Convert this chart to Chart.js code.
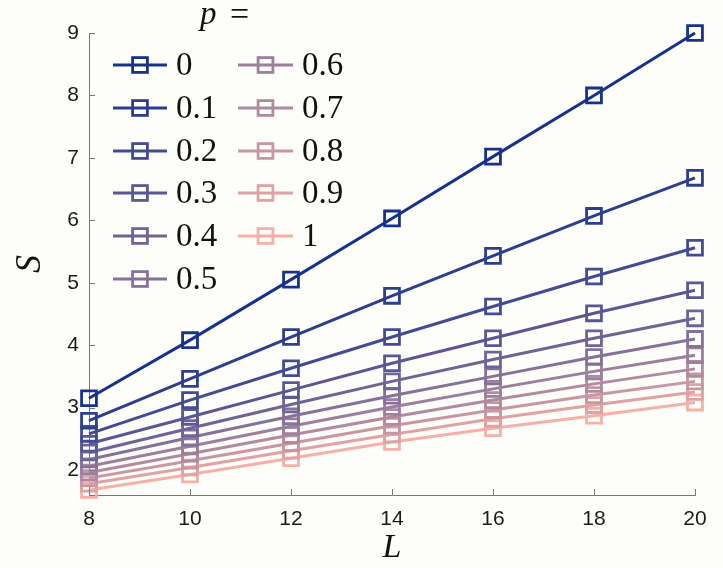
<!DOCTYPE html>
<html>
<head>
<meta charset="utf-8">
<script src="https://cdn.jsdelivr.net/npm/chart.js@4.4.1/dist/chart.umd.min.js"></script>
<style>
  html, body { margin: 0; padding: 0; background: #fdfdfa; }
  canvas { display: block; }
</style>
</head>
<body>
<canvas id="myChart" width="723" height="568"></canvas>
<script>
  // L values on the x axis
  const L = [8, 10, 12, 14, 16, 18, 20];
  const pLabels = ['0', '0.1', '0.2', '0.3', '0.4', '0.5', '0.6', '0.7', '0.8', '0.9', '1'];

  // S for each p
  const s_p00 = [3.15, 4.08, 5.05, 6.03, 7.02, 8.00, 9.00];
  const s_p01 = [2.79, 3.46, 4.13, 4.79, 5.43, 6.07, 6.68];
  const s_p02 = [2.58, 3.12, 3.63, 4.13, 4.62, 5.10, 5.56];
  const s_p03 = [2.42, 2.85, 3.28, 3.71, 4.11, 4.51, 4.88];
  const s_p04 = [2.28, 2.67, 3.05, 3.42, 3.77, 4.11, 4.43];
  const s_p05 = [2.17, 2.52, 2.86, 3.19, 3.50, 3.81, 4.10];
  const s_p06 = [2.06, 2.38, 2.70, 3.01, 3.30, 3.58, 3.84];
  const s_p07 = [1.96, 2.26, 2.56, 2.85, 3.12, 3.38, 3.62];
  const s_p08 = [1.87, 2.15, 2.43, 2.71, 2.96, 3.20, 3.42];
  const s_p09 = [1.78, 2.04, 2.31, 2.57, 2.82, 3.04, 3.25];
  const s_p10 = [1.68, 1.93, 2.19, 2.45, 2.67, 2.87, 3.08];
  const allS = [s_p00, s_p01, s_p02, s_p03, s_p04, s_p05, s_p06, s_p07, s_p08, s_p09, s_p10];

  const xTicks = [8, 10, 12, 14, 16, 18, 20];
  const yTicks = [2, 3, 4, 5, 6, 7, 8, 9];

  // colour ramp dark blue -> salmon
  const c0 = [22, 50, 140], c1 = [245, 176, 168];
  function rampColor(i, n) {
    const t = i / (n - 1);
    const c = c0.map((v, k) => Math.round(v + (c1[k] - v) * t));
    return 'rgb(' + c.join(',') + ')';
  }

  const datasets = allS.map((s, i) => ({
    label: pLabels[i],
    data: L.map((x, j) => ({ x: x, y: s[j] })),
    borderColor: rampColor(i, allS.length),
    backgroundColor: 'rgba(0,0,0,0)',
    borderWidth: 3,
    pointStyle: 'rect',
    pointRadius: 10.5,
    pointBorderWidth: 2.8,
    pointBackgroundColor: 'rgba(0,0,0,0)',
    pointBorderColor: rampColor(i, allS.length),
    tension: 0,
    clip: false
  }));

  // inward tick marks, legend and labels drawn on the canvas
  const extras = {
    id: 'extras',
    beforeDraw(chart) {
      const c = chart.ctx;
      c.save();
      c.fillStyle = '#fdfdfa';
      c.fillRect(0, 0, chart.width, chart.height);
      c.restore();
    },
    afterDatasetsDraw(chart) {
      const c = chart.ctx;
      const xs = chart.scales.x, ys = chart.scales.y;
      const area = chart.chartArea;
      c.save();
      c.strokeStyle = '#777';
      c.lineWidth = 1;
      xTicks.forEach(v => {
        const px = Math.round(xs.getPixelForValue(v)) + 0.5;
        c.beginPath(); c.moveTo(px, area.bottom); c.lineTo(px, area.bottom - 6); c.stroke();
      });
      yTicks.forEach(v => {
        const py = Math.round(ys.getPixelForValue(v)) + 0.5;
        c.beginPath(); c.moveTo(area.left, py); c.lineTo(area.left + 6, py); c.stroke();
      });

      // legend title
      c.fillStyle = '#111';
      c.textBaseline = 'middle';
      c.font = 'italic 33px "Liberation Serif"';
      c.fillText('p', 200, 15);
      c.font = '34px "Liberation Serif"';
      c.fillText('=', 230, 16);

      // legend entries, two columns
      const cols = [{ x0: 113, x1: 167, tx: 176 }, { x0: 238, x1: 293, tx: 302 }];
      const rowY = [65, 108, 151, 193, 236, 279];
      chart.data.datasets.forEach((ds, i) => {
        const col = cols[i < 6 ? 0 : 1];
        const y = rowY[i < 6 ? i : i - 6];
        c.strokeStyle = ds.borderColor;
        c.lineWidth = 3;
        c.beginPath(); c.moveTo(col.x0, y); c.lineTo(col.x1, y); c.stroke();
        const h = 7.4;
        const mx = (col.x0 + col.x1) / 2;
        c.lineWidth = 2.8;
        c.strokeRect(mx - h, y - h, 2 * h, 2 * h);
        c.fillStyle = '#111';
        c.font = '33px "Liberation Serif"';
        c.fillText(ds.label, col.tx, y + 1);
      });
      c.restore();
    }
  };

  const ctx = document.getElementById('myChart');

  new Chart(ctx, {
    type: 'line',
    data: { datasets: datasets },
    options: {
      responsive: false,
      animation: false,
      layout: { padding: { top: 33, right: 28, left: 0, bottom: 0 } },
      plugins: { legend: { display: false }, tooltip: { enabled: false } },
      scales: {
        x: {
          type: 'linear',
          min: 8,
          max: 20,
          afterFit: s => { s.height = 73; },
          afterBuildTicks: s => { s.ticks = xTicks.map(v => ({ value: v })); },
          grid: { display: true, drawOnChartArea: false, drawTicks: false },
          border: { display: true, color: '#777', width: 1 },
          ticks: { color: '#1a1a1a', font: { family: 'Liberation Sans', size: 21 }, padding: 12, maxRotation: 0 },
          title: { display: true, text: 'L', color: '#111', font: { family: 'Liberation Serif', style: 'italic', size: 34 }, padding: { top: 0, bottom: 0 } }
        },
        y: {
          min: 1.6,
          max: 9,
          afterFit: s => { s.width = 89; },
          afterBuildTicks: s => { s.ticks = yTicks.map(v => ({ value: v })); },
          grid: { display: true, drawOnChartArea: false, drawTicks: false },
          border: { display: true, color: '#777', width: 1 },
          ticks: { color: '#1a1a1a', font: { family: 'Liberation Sans', size: 21 }, padding: 10 },
          title: { display: true, text: 'S', color: '#111', font: { family: 'Liberation Serif', style: 'italic', size: 36 }, padding: { top: 9, bottom: 0 } }
        }
      }
    },
    plugins: [extras]
  });
</script>
</body>
</html>
